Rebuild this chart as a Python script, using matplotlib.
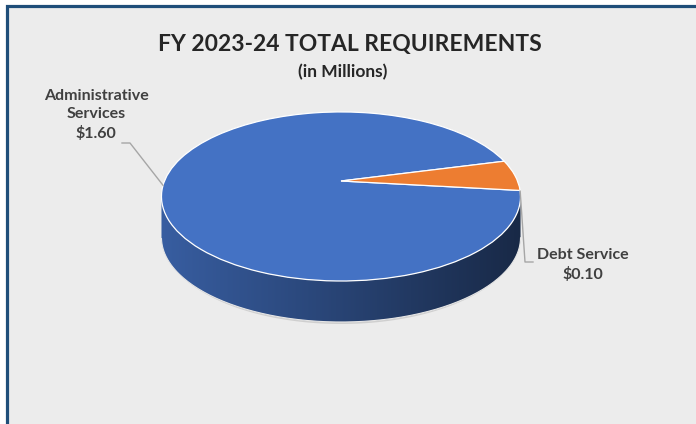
import matplotlib.pyplot as plt
import numpy as np
from matplotlib.patches import Polygon, Rectangle
from matplotlib.colors import LinearSegmentedColormap, to_rgb
from matplotlib.transforms import Transform

# budget split, millions of dollars
labels = ['Administrative\nServices', 'Debt Service']
values = [1.60, 0.10]
colors = ['#4472C4', '#ED7D31']
title = 'FY 2023-24 TOTAL REQUIREMENTS'
subtitle = '(in Millions)'

W, H = 696, 424
fig = plt.figure(figsize=(W / 100, H / 100), dpi=100)
fig.patch.set_facecolor('white')
fig.patches.append(Rectangle((6.5 / W, -0.1), 1.2, 1.1 - 6.5 / H,
                             transform=fig.transFigure, facecolor='#ececec',
                             edgecolor='#1f4e79', linewidth=2.3, zorder=-5))

plt.rcParams['font.family'] = ['Lato', 'DejaVu Sans']

# pie centre in pixels, tilt / perspective of the disc, wall height
vx, vy = 341, 181
ca, cb, pp = 176.5, 81.7, 0.183
depth = 41


class Tilt(Transform):
    # unit disc -> tilted disc, pixels relative to centre
    input_dims = output_dims = 2

    def transform_non_affine(self, xy):
        xy = np.asarray(xy, float)
        s = 1 + pp * xy[:, 1]
        return np.column_stack([ca * xy[:, 0] / s, cb * xy[:, 1] / s])


tilt = Tilt()


def px(x, y):
    return x - vx, vy - y


ax = fig.add_axes([0, 0, 1, 1], zorder=2)
wedges, _ = ax.pie(values, colors=colors, startangle=-6.5, counterclock=False,
                   radius=1, wedgeprops=dict(edgecolor='white', linewidth=0.9))
for w in wedges:
    w.set_zorder(4)
    w.set_transform(tilt + ax.transData)
ax.set_aspect('auto')
ax.axis('off')
ax.patch.set_alpha(0)

# faint shadow below the base
sh = np.linspace(np.pi, 2 * np.pi, 200)
shadow = tilt.transform(np.column_stack([np.cos(sh) * 0.985, np.sin(sh)]))
ax.fill(shadow[:, 0], shadow[:, 1] - depth - 2, color='#cfcfcf', zorder=1, lw=0)

# side wall of each slice that faces the viewer
grad = np.linspace(0, 1, 256).reshape(1, -1)
for w, c in zip(wedges, colors):
    t = np.radians(np.linspace(w.theta1, w.theta2, 400))
    t = t[np.sin(t) <= -pp]
    if t.size < 2:
        continue
    rim = tilt.transform(np.column_stack([np.cos(t), np.sin(t)]))
    xs, ys = rim[:, 0], rim[:, 1]
    pts = np.column_stack([np.r_[xs, xs[::-1]], np.r_[ys, ys[::-1] - depth]])
    poly = Polygon(pts, closed=True, facecolor='none', edgecolor='none')
    ax.add_patch(poly)
    base = np.array(to_rgb(c))
    cmap = LinearSegmentedColormap.from_list('side', [base * 0.82, base * 0.36])
    im = ax.imshow(grad, cmap=cmap, aspect='auto', zorder=2,
                   extent=(xs.min(), xs.max(), ys.min() - depth, ys.max()))
    im.set_clip_path(poly)
    ax.plot(xs, ys - depth, color='#e6e6e6', lw=0.8, zorder=3)

ax.set_xlim(-vx, W - vx)
ax.set_ylim(vy - H, vy)

# data labels with leader lines
txt = '#404040'


def rim_point(deg):
    r = np.radians(deg)
    return tilt.transform(np.array([[np.cos(r), np.sin(r)]]))[0]


ax.text(*px(96, 115), f'{labels[0]}\n${values[0]:.2f}', ha='center', va='center',
        fontsize=11.5, fontweight='bold', color=txt, linespacing=1.35, zorder=5)
e = rim_point(183)
ax.plot([px(122, 143)[0], px(130, 143)[0], e[0]],
        [px(122, 143)[1], px(130, 143)[1], e[1]], color='#a6a6a6', lw=1, zorder=5)

ax.text(*px(583, 265), f'{labels[1]}\n${values[1]:.2f}', ha='center', va='center',
        fontsize=11.5, fontweight='bold', color=txt, linespacing=1.35, zorder=5)
e = rim_point(-7)
ax.plot([e[0], px(525, 262)[0], px(533, 262)[0]],
        [e[1], px(525, 262)[1], px(533, 262)[1]], color='#a6a6a6', lw=1, zorder=5)

fig.text(350 / W, 1 - 44 / H, title, ha='center', va='center',
         fontsize=16.5, fontweight='bold', color='#262626')
fig.text(343 / W, 1 - 72 / H, subtitle, ha='center', va='center',
         fontsize=12.5, fontweight='bold', color='#262626')

fig.savefig('out.png', dpi=100)
